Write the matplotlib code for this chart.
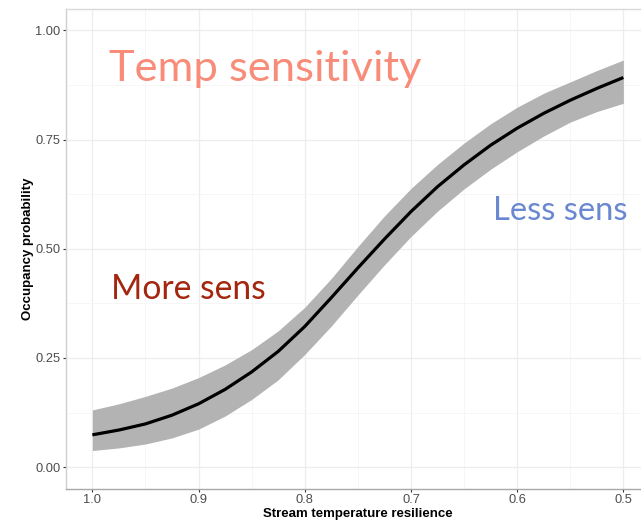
import matplotlib
matplotlib.use("Agg")
import matplotlib.pyplot as plt

resilience = [1.000, 0.975, 0.950, 0.925, 0.900, 0.875, 0.850, 0.825, 0.800, 0.775, 0.750,
              0.725, 0.700, 0.675, 0.650, 0.625, 0.600, 0.575, 0.550, 0.525, 0.500]
occ_mean = [0.074, 0.085, 0.099, 0.119, 0.145, 0.178, 0.218, 0.265, 0.322, 0.388, 0.456,
            0.522, 0.585, 0.642, 0.692, 0.737, 0.776, 0.810, 0.840, 0.867, 0.892]
occ_upper = [0.131, 0.145, 0.162, 0.181, 0.205, 0.234, 0.269, 0.312, 0.366, 0.432, 0.505,
             0.575, 0.638, 0.693, 0.742, 0.786, 0.824, 0.856, 0.882, 0.908, 0.932]
occ_lower = [0.038, 0.044, 0.053, 0.067, 0.087, 0.117, 0.155, 0.200, 0.258, 0.323, 0.394,
             0.463, 0.528, 0.586, 0.637, 0.682, 0.722, 0.758, 0.790, 0.814, 0.833]
x_ticks = [1.0, 0.9, 0.8, 0.7, 0.6, 0.5]
x_ticklabels = ["1.0", "0.9", "0.8", "0.7", "0.6", "0.5"]
y_ticks = [0.0, 0.25, 0.5, 0.75, 1.0]
y_ticklabels = ["0.00", "0.25", "0.50", "0.75", "1.00"]

W, H = 641, 522
fig = plt.figure(figsize=(W / 100, H / 100), dpi=100)
ax = fig.add_axes([65.8 / W, 1 - 489 / H, (649.9 - 65.8) / W, (489 - 8.5) / H])

ax.set_xlim(1.025, 0.475)
ax.set_ylim(-0.05, 1.05)

ax.set_xticks(x_ticks)
ax.set_xticklabels(x_ticklabels)
ax.set_xticks([0.95, 0.85, 0.75, 0.65, 0.55], minor=True)
ax.set_yticks(y_ticks)
ax.set_yticklabels(y_ticklabels)
ax.set_yticks([0.125, 0.375, 0.625, 0.875], minor=True)
ax.grid(which="major", color="#EDEDED", linewidth=0.9)
ax.grid(which="minor", color="#F5F5F5", linewidth=0.6)
ax.set_axisbelow(True)
ax.tick_params(which="minor", length=0)
ax.tick_params(which="major", length=2.2, width=0.8, color="#333333",
               labelsize=9.3, labelcolor="#4D4D4D", pad=1.5)

for name, sp in ax.spines.items():
    sp.set_linewidth(1.0)
ax.spines["top"].set_color("#D9D9D9")
ax.spines["left"].set_color("#CFCFCF")
ax.spines["bottom"].set_color("#A8A8A8")
ax.spines["right"].set_color("#D9D9D9")

ax.fill_between(resilience, occ_lower, occ_upper, color="#B3B3B3", linewidth=0, zorder=2)
ax.plot(resilience, occ_mean, color="black", linewidth=2.3, zorder=3,
        solid_capstyle="butt", solid_joinstyle="round")

lab_font = dict(family=["Liberation Sans", "DejaVu Sans"], fontweight="bold", fontsize=9.5, color="black")
ax.set_xlabel("Stream temperature resilience", labelpad=1, **lab_font)
ax.set_ylabel("Occupancy probability", labelpad=1, **lab_font)
for t in ax.get_xticklabels() + ax.get_yticklabels():
    t.set_family(["Liberation Sans", "DejaVu Sans"])

ann_font = ["Lato", "DejaVu Sans"]
ax.text(0.9846, 0.883, "Temp sensitivity", family=ann_font, fontsize=31.3, color="#F88C78",
        ha="left", va="baseline", zorder=4)
ax.text(0.982, 0.384, "More sens", family=ann_font, fontsize=24.2, color="#A3260F",
        ha="left", va="baseline", zorder=4)
ax.text(0.6224, 0.5656, "Less sens", family=ann_font, fontsize=23.6, color="#6A88D0",
        ha="left", va="baseline", zorder=4)

fig.savefig("out.png", dpi=100, facecolor="white")
